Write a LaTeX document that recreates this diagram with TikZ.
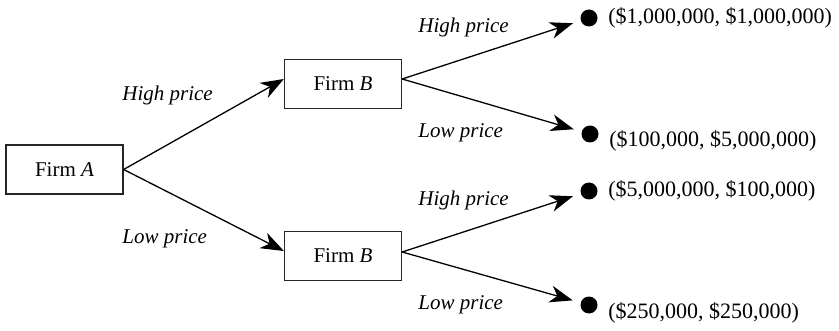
\documentclass[tikz,border=0pt]{standalone}
\usepackage{fontspec}
\setmainfont{Liberation Serif}
\usetikzlibrary{arrows.meta,positioning}
\tikzset{
  firmbox/.style={rectangle,draw=black!85,line width=0.65pt,fill=white,
                  font=\fontsize{10.5}{12}\selectfont,minimum width=58.5pt,minimum height=24.5pt,
                  inner sep=2pt},
  enddot/.style={circle,fill=black,inner sep=0pt,minimum size=8.5pt},
  payoff/.style={font=\fontsize{11}{13}\selectfont,inner sep=0pt},
  movelbl/.style={font=\fontsize{10.5}{12}\selectfont\itshape,inner sep=0pt,anchor=west},
  moveedge/.style={-{Stealth[length=11.5pt,width=8.5pt,inset=3.5pt]},line width=0.65pt},
}

\begin{document}
\begin{tikzpicture}[x=0.5pt,y=-0.5pt]
  \useasboundingbox (0,0) rectangle (839,331);
  % decision nodes
  \node[firmbox] (firmA)   at (64.5,169.5) {Firm \textit{A}};
  \node[firmbox] (firmBhi) at (343,84)  {Firm \textit{B}};
  \node[firmbox] (firmBlo) at (343,256) {Firm \textit{B}};
  % end points
  \node[enddot] (hh) at (589,18) {};
  \node[enddot] (hl) at (590,134) {};
  \node[enddot] (lh) at (589,191) {};
  \node[enddot] (ll) at (589,305) {};
  \node[payoff,right=5pt of hh] (phh) {(\$1,000,000, \$1,000,000)};
  \node[payoff,right=5pt of hl,yshift=-3.5pt] (phl) {(\$100,000, \$5,000,000)};
  \node[payoff,right=5pt of lh] (plh) {(\$5,000,000, \$100,000)};
  \node[payoff,right=5pt of ll,yshift=-4pt] (pll) {(\$250,000, \$250,000)};
  %
  \draw[moveedge] (firmA.east) -- ([yshift=2.5pt]firmBhi.west);
  \draw[moveedge] (firmA.east) -- ([yshift=2.5pt]firmBlo.west);
  \draw[moveedge,shorten >=4pt] ([yshift=2.5pt]firmBhi.east) -- (hh);
  \draw[moveedge,shorten >=4pt] ([yshift=2.5pt]firmBhi.east) -- (hl);
  \draw[moveedge,shorten >=4pt] ([yshift=2pt]firmBlo.east) -- (lh);
  \draw[moveedge,shorten >=4pt] ([yshift=2pt]firmBlo.east) -- (ll);
  % move labels
  \node[movelbl] (mAh) at (122,95)  {High price};
  \node[movelbl] (mAl) at (122,239) {Low price};
  \node[movelbl] (mBhh) at (418,27)  {High price};
  \node[movelbl] (mBhl) at (418,133) {Low price};
  \node[movelbl] (mBlh) at (418,200) {High price};
  \node[movelbl] (mBll) at (418,305) {Low price};
\end{tikzpicture}
\end{document}
